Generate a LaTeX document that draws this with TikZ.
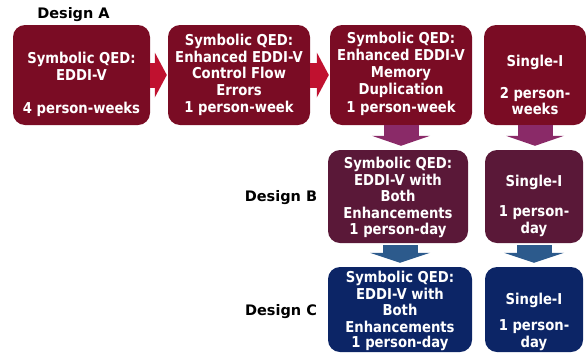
\documentclass[tikz,border=0pt]{standalone}
\usepackage{fontspec}
\setmainfont{DejaVu Sans}
\newfontfamily\boxfont{DejaVu Sans}[FakeStretch=0.88]
\usetikzlibrary{arrows.meta}

\definecolor{boxA}{HTML}{7A0C24}
\definecolor{boxB}{HTML}{5A1838}
\definecolor{boxC}{HTML}{0C2566}
\definecolor{arrA}{HTML}{C0112F}
\definecolor{arrB}{HTML}{8A2A68}
\definecolor{arrC}{HTML}{2C5A8C}

\begin{document}
\begin{tikzpicture}[x=1pt, y=-1pt,
  box/.style={draw=none, rounded corners=12pt, inner sep=0pt},
  txt/.style={text=white, font=\boxfont\fontsize{15}{16.8}\selectfont\bfseries, align=center, inner sep=0pt},
  tag/.style={font=\fontsize{14.5}{17}\selectfont\bfseries, inner sep=0pt},
  rarrow/.style={draw=arrA, line width=25pt, -{Triangle[width=45pt,length=12pt,line width=0pt]}, shorten >=1pt},
  parrow/.style={draw=arrB, line width=35pt, -{Triangle[width=58pt,length=10pt,line width=0pt]}, shorten >=4pt},
  barrow/.style={draw=arrC, line width=35pt, -{Triangle[width=60pt,length=10pt,line width=0pt]}, shorten >=4pt, shorten <=2pt}]
\useasboundingbox (0,0) rectangle (586,354);
% design A
\node[tag] (LA) at (73.5,15) {Design A};
\node[box, fill=boxA, minimum width=137pt, minimum height=100pt] (DA1) at (81.5,75) {};
\node[box, fill=boxA, minimum width=142pt, minimum height=100pt] (DA2) at (239,75) {};
\node[box, fill=boxA, minimum width=142pt, minimum height=100pt] (DA3) at (401,75) {};
\node[box, fill=boxA, minimum width=102pt, minimum height=100pt] (DA4) at (535,75) {};
\node[txt] (DA1t) at (81.5,66) {Symbolic QED:\\EDDI-V};
\node[txt] (DA1e) at (81.5,109) {4 person-weeks};
\node[txt] (DA2t) at (239,65) {Symbolic QED:\\Enhanced EDDI-V\\Control Flow\\Errors};
\node[txt] (DA2e) at (239,108) {1 person-week};
\node[txt] (DA3t) at (401,65) {Symbolic QED:\\Enhanced EDDI-V\\Memory\\Duplication};
\node[txt] (DA3e) at (401,108) {1 person-week};
\node[txt] (DA4t) at (535,62) {Single-I};
\node[txt] (DA4e) at (535,101) {2 person-\\weeks};
% design B
\node[tag] (LB) at (281,198) {Design B};
\node[box, fill=boxB, minimum width=140pt, minimum height=93pt] (DB1) at (398,196.5) {};
\node[box, fill=boxB, minimum width=98pt, minimum height=93pt] (DB2) at (534,196.5) {};
\node[txt] (DB1t) at (398,188) {Symbolic QED:\\EDDI-V with\\Both\\Enhancements};
\node[txt] (DB1e) at (398,230) {1 person-day};
\node[txt] (DB2t) at (534,182) {Single-I};
\node[txt] (DB2e) at (534,221.5) {1 person-\\day};
% design C
\node[tag] (LC) at (281,312) {Design C};
\node[box, fill=boxC, minimum width=144pt, minimum height=85pt] (DC1) at (400,309.5) {};
\node[box, fill=boxC, minimum width=98pt, minimum height=85pt] (DC2) at (534,309.5) {};
\node[txt] (DC1t) at (400,302) {Symbolic QED:\\EDDI-V with\\Both\\Enhancements};
\node[txt] (DC1e) at (400,343) {1 person-day};
\node[txt] (DC2t) at (534,300) {Single-I};
\node[txt] (DC2e) at (534,335) {1 person-\\day};
% arrows
\draw[rarrow] (DA1.east) -- (DA2.west);
\draw[rarrow] (DA2.east) -- (DA3.west);
\draw[parrow] (DA3.south) -- (DA3.south |- DB1.north);
\draw[parrow] (DA4.south) -- (DA4.south |- DB2.north);
\draw[barrow] (DC1.north |- DB1.south) -- (DC1.north);
\draw[barrow] (DC2.north |- DB2.south) -- (DC2.north);
\end{tikzpicture}
\end{document}
